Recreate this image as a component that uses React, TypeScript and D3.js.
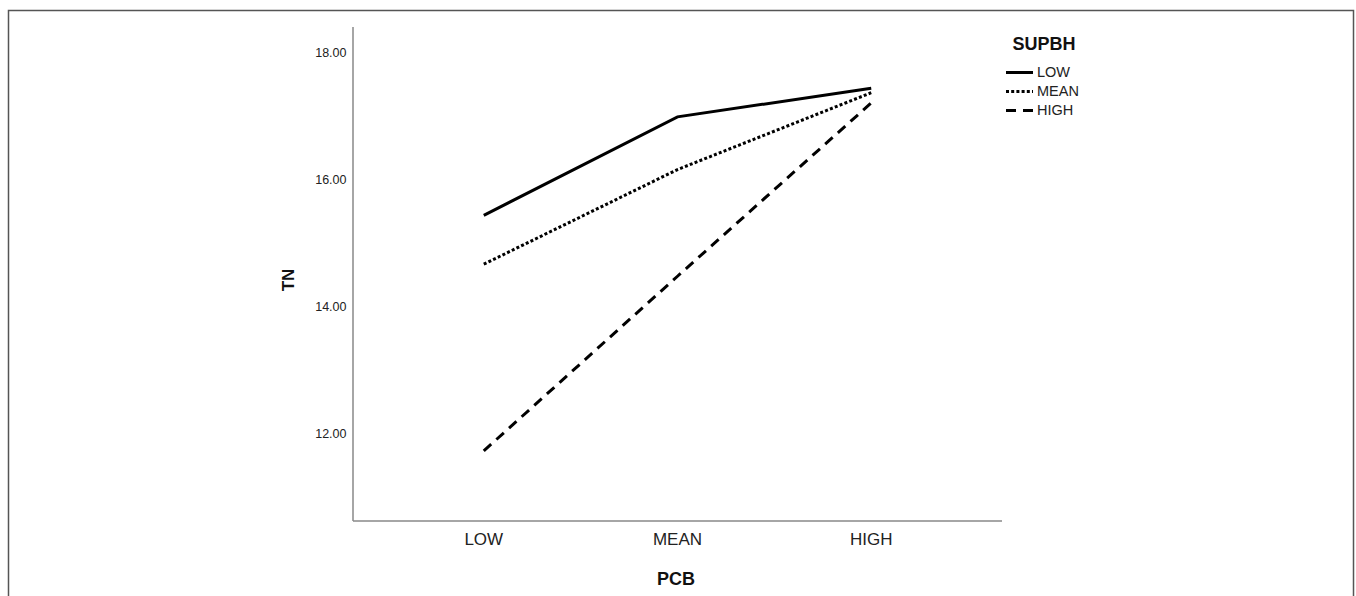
import React from "react";
import * as d3 from "d3";

const categories = ["LOW", "MEAN", "HIGH"];
const seriesNames = ["LOW", "MEAN", "HIGH"];
const lowValues = [15.46, 17.01, 17.46];
const meanValues = [14.69, 16.18, 17.39];
const highValues = [11.75, 14.5, 17.23];
const yTicks = [12, 14, 16, 18];
const dashes = ["none", "3,2.2", "10,7"];

export default function App() {
  const W = 1356, H = 596;
  const x = d3.scalePoint<string>().domain(categories).range([353, 1002]).padding(0.675);
  const y = d3.scaleLinear().domain([10.646, 18.425]).range([521, 27]);
  const line = d3.line<number>().x((_, i) => x(categories[i]) as number).y((d) => y(d));
  const all = [lowValues, meanValues, highValues];
  const font = "Liberation Sans, Arial, sans-serif";
  return (
    <svg width={W} height={H} style={{ position: "absolute", left: 0, top: 0 }} fontFamily={font}>
      <rect x={0} y={0} width={W} height={H} fill="#fff" />
      <path d={`M8.5,${H} V10.5 H1353.5 V${H}`} fill="none" stroke="#555" strokeWidth={1.5} />
      <line x1={353} x2={353} y1={y.range()[1]} y2={y.range()[0]} stroke="#888" strokeWidth={1.5} />
      <line x1={353} x2={1002} y1={521} y2={521} stroke="#888" strokeWidth={1.5} />
      {yTicks.map((t) => (
        <text key={t} x={346.5} y={y(t)} textAnchor="end" dominantBaseline="middle" fontSize={12.5} fill="#222">
          {t.toFixed(2)}
        </text>
      ))}
      {categories.map((c) => (
        <text key={c} x={x(c)} y={541} textAnchor="middle" dominantBaseline="middle" fontSize={17} fill="#222">
          {c}
        </text>
      ))}
      <text x={676} y={580} textAnchor="middle" dominantBaseline="middle" fontSize={18} fontWeight="bold" fill="#111">
        PCB
      </text>
      <text transform="translate(290,280) rotate(-90)" textAnchor="middle" dominantBaseline="middle" fontSize={17} fontWeight="bold" fill="#111">
        TN
      </text>
      {all.map((vals, i) => (
        <path key={i} d={line(vals) || ""} fill="none" stroke="#000" strokeWidth={3} strokeDasharray={dashes[i]} />
      ))}
      <text x={1044} y={45} textAnchor="middle" dominantBaseline="middle" fontSize={18} fontWeight="bold" fill="#111">
        SUPBH
      </text>
      {seriesNames.map((s, i) => (
        <g key={s}>
          <line x1={1006} x2={1033} y1={72.5 + i * 19} y2={72.5 + i * 19} stroke="#000" strokeWidth={3} strokeDasharray={dashes[i]} />
          <text x={1037} y={73.5 + i * 19} dominantBaseline="middle" fontSize={14.5} fill="#222">
            {s}
          </text>
        </g>
      ))}
    </svg>
  );
}
